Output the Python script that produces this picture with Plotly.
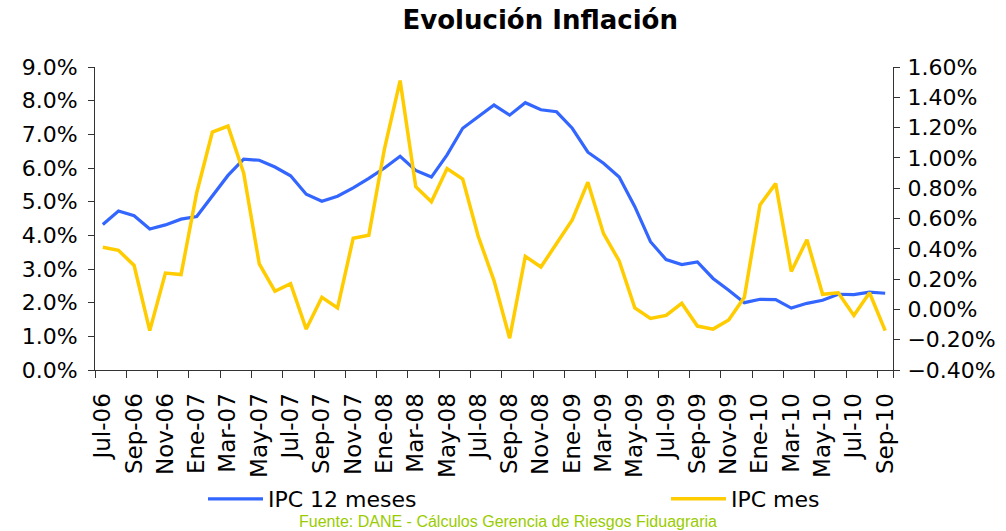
import plotly.graph_objects as go

meses = ["Jul-06", "Ago-06", "Sep-06", "Oct-06", "Nov-06", "Dic-06",
         "Ene-07", "Feb-07", "Mar-07", "Abr-07", "May-07", "Jun-07",
         "Jul-07", "Ago-07", "Sep-07", "Oct-07", "Nov-07", "Dic-07",
         "Ene-08", "Feb-08", "Mar-08", "Abr-08", "May-08", "Jun-08",
         "Jul-08", "Ago-08", "Sep-08", "Oct-08", "Nov-08", "Dic-08",
         "Ene-09", "Feb-09", "Mar-09", "Abr-09", "May-09", "Jun-09",
         "Jul-09", "Ago-09", "Sep-09", "Oct-09", "Nov-09", "Dic-09",
         "Ene-10", "Feb-10", "Mar-10", "Abr-10", "May-10", "Jun-10",
         "Jul-10", "Ago-10", "Sep-10"]

ipc_12m = [4.32, 4.72, 4.58, 4.19, 4.31, 4.48,
           4.56, 5.17, 5.78, 6.26, 6.23, 6.03,
           5.77, 5.22, 5.01, 5.16, 5.41, 5.69,
           6.00, 6.35, 5.93, 5.73, 6.39, 7.18,
           7.52, 7.87, 7.57, 7.94, 7.73, 7.67,
           7.18, 6.47, 6.14, 5.73, 4.85, 3.81,
           3.28, 3.13, 3.21, 2.72, 2.37, 2.00,
           2.10, 2.09, 1.84, 1.98, 2.07, 2.25,
           2.24, 2.31, 2.28]

ipc_mes = [0.41, 0.39, 0.29, -0.14, 0.24, 0.23,
           0.77, 1.17, 1.21, 0.90, 0.30, 0.12,
           0.17, -0.13, 0.08, 0.01, 0.47, 0.49,
           1.06, 1.51, 0.81, 0.71, 0.93, 0.86,
           0.48, 0.19, -0.19, 0.35, 0.28, 0.44,
           0.59, 0.84, 0.50, 0.32, 0.01, -0.06,
           -0.04, 0.04, -0.11, -0.13, -0.07, 0.08,
           0.69, 0.83, 0.25, 0.46, 0.10, 0.11,
           -0.04, 0.11, -0.14]

etiquetas = meses[::2]

fig = go.Figure()
fig.add_trace(go.Scatter(x=meses, y=ipc_12m, name="IPC 12 meses", mode="lines",
                         line=dict(color="#3366FF", width=3.2), legend="legend"))
fig.add_trace(go.Scatter(x=meses, y=ipc_mes, name="IPC mes", mode="lines",
                         line=dict(color="#FFCC00", width=3.5), yaxis="y2", legend="legend2"))

tick_font = dict(family="DejaVu Sans", size=22, color="black")
leg_font = dict(family="DejaVu Sans", size=22, color="black")

fig.update_layout(
    width=1006, height=531,
    margin=dict(l=95, r=113, t=67, b=161, autoexpand=False),
    paper_bgcolor="white", plot_bgcolor="white",
    title=dict(text="<b>Evolución Inflación</b>", x=0.537, xanchor="center",
               y=0.962, yanchor="middle",
               font=dict(family="DejaVu Sans", size=26, color="black")),
    xaxis=dict(type="category", tickmode="array", tickvals=etiquetas, ticktext=etiquetas,
               tickson="boundaries", ticks="outside", ticklen=7, tickcolor="#333",
               showline=True, linecolor="#333", linewidth=1, showgrid=False,
               tickangle=-90, tickfont=dict(family="DejaVu Sans", size=23, color="black"),
               ticklabelstandoff=13, range=[-0.5, len(meses) - 0.5], automargin=False),
    yaxis=dict(range=[0, 9], dtick=1, tickformat=".1f", ticksuffix="%",
               ticks="outside", ticklen=6, tickcolor="#333",
               showline=True, linecolor="#333", linewidth=1, showgrid=False, zeroline=False,
               tickfont=tick_font, ticklabelstandoff=6, automargin=False),
    yaxis2=dict(range=[-0.4, 1.6], dtick=0.2, tick0=0, tickformat=".2f", ticksuffix="%",
                overlaying="y", side="right",
                ticks="outside", ticklen=6, tickcolor="#333",
                showline=True, linecolor="#333", linewidth=1, showgrid=False, zeroline=False,
                tickfont=tick_font, ticklabelstandoff=3, automargin=False),
    legend=dict(orientation="h", x=(203 - 95) / 798, xanchor="left",
                y=(370 - 499) / 303, yanchor="middle", itemwidth=55,
                font=leg_font, bgcolor="rgba(0,0,0,0)"),
    legend2=dict(orientation="h", x=(666 - 95) / 798, xanchor="left",
                 y=(370 - 499) / 303, yanchor="middle", itemwidth=55,
                 font=leg_font, bgcolor="rgba(0,0,0,0)"),
    showlegend=True,
    annotations=[dict(text="Fuente: DANE - Cálculos Gerencia de Riesgos Fiduagraria",
                      x=(508 - 95) / 798, xref="paper", xanchor="center",
                      y=(370 - 521) / 303, yref="paper", yanchor="middle",
                      showarrow=False,
                      font=dict(family="Liberation Sans", size=16, color="#99CC00"))],
)

fig.write_html("out.html", config={"displayModeBar": False},
               post_script="document.body.style.margin='0px';")
